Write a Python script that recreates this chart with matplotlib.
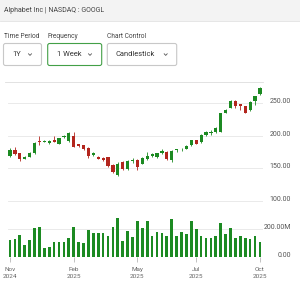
import matplotlib
matplotlib.use("Agg")
import matplotlib.pyplot as plt
from matplotlib.patches import Rectangle, FancyBboxPatch

plt.rcParams['font.family'] = ['Roboto', 'DejaVu Sans']

# weekly GOOGL candles
opens = [169, 178, 173, 165, 168, 173, 192, 191, 189, 193, 188, 198, 192, 200, 187, 185,
         181, 170, 168, 166, 167, 155, 140, 160, 149, 161, 163, 157, 164, 169, 167, 174,
         175, 163, 178, 179, 180, 185, 193, 190, 201, 204, 205, 206, 235, 243, 253, 248,
         245, 239, 253, 264]
closes = [178, 172, 164, 168, 174, 189, 190, 192, 192, 191, 196, 200, 204, 183, 184, 179,
          169, 174, 165, 163, 154, 145, 157, 149, 162, 163, 152, 166, 169, 172, 173, 176,
          165, 177, 179, 180, 184, 193, 188, 201, 205, 206, 212, 234, 240, 253, 246, 246,
          235, 252, 260, 273]
highs = [181, 182, 174, 169, 175, 191, 200, 194, 193, 200, 197, 201, 206, 206, 188, 186,
         182, 175, 169, 167, 168, 156, 159, 161, 163, 166, 164, 167, 175, 173, 174, 179,
         176, 178, 180, 181, 185, 194, 194, 202, 207, 208, 213, 235, 241, 254, 254, 249,
         246, 253, 261, 274]
lows = [167, 170, 162, 164, 167, 172, 186, 190, 188, 190, 187, 197, 191, 182, 183, 178,
        166, 169, 164, 162, 152, 143, 138, 147, 148, 158, 148, 156, 163, 168, 166, 172,
        163, 160, 175, 176, 179, 184, 187, 189, 200, 201, 204, 205, 234, 242, 242, 240,
        234, 238, 247, 263]
# volume in millions
volumes = [121, 129, 157, 86, 121, 205, 217, 67, 69, 107, 107, 107, 138, 217, 107, 102,
           193, 169, 169, 169, 152, 217, 276, 116, 186, 145, 257, 209, 257, 152, 181, 169,
           152, 269, 150, 176, 162, 259, 198, 150, 138, 133, 150, 245, 162, 209, 133, 152,
           133, 129, 150, 109]

tick_index = [0, 13, 26, 38, 51]
tick_labels = ['Nov\n2024', 'Feb\n2025', 'May\n2025', 'Jul\n2025', 'Oct\n2025']
price_ticks = [100, 150, 200, 250]
vol_ticks = [0, 200]
vol_labels = ['0.00', '200.00M']

GREEN = '#1c8a22'
RED = '#b3261e'
W, H = 300, 288

fig = plt.figure(figsize=(3, 2.88), dpi=100)


def px_axes(x0, y0, x1, y1):
    # box given in pixels, y measured from the top
    return fig.add_axes([x0 / W, 1 - y1 / H, (x1 - x0) / W, (y1 - y0) / H])


# header / controls drawn in pixel space
ui = fig.add_axes([0, 0, 1, 1])
ui.set_xlim(0, W)
ui.set_ylim(H, 0)
ui.axis('off')
ui.add_patch(Rectangle((0, 0), W, 21, fc='#f3f3f3', ec='none'))
ui.plot([0, W], [21, 21], color='#e2e2e2', lw=0.6)
ui.text(3.5, 10.7, 'Alphabet Inc | NASDAQ : GOOGL', fontsize=5, color='#444444', va='center')

controls = [('Time Period', '1Y', 3.5, 41.5, '#c8c8c8', 12, 30),
            ('Frequency', '1 Week', 47.7, 101.7, '#43a047', 56.7, 90),
            ('Chart Control', 'Candlestick', 107.3, 176.7, '#c8c8c8', 116, 165.7)]
for lab, val, x0, x1, ec, tx, cx in controls:
    ui.text(x0, 36.7, lab, fontsize=4.8, color='#444444', va='center')
    ui.add_patch(FancyBboxPatch((x0, 43.5), x1 - x0, 22, boxstyle='round,pad=0,rounding_size=2',
                                fc='white', ec=ec, lw=0.8))
    ui.text(tx, 54.5, val, fontsize=5.4, color='#333333', va='center')
    ui.plot([cx - 1.5, cx, cx + 1.5], [53.8, 55.4, 53.8], color='#555555', lw=0.6)
ui.plot([5, 263], [81.7, 81.7], color='#dddddd', lw=0.6)

# price panel
ax = px_axes(8, 85, 263, 205)
for i in range(len(opens)):
    o, c = opens[i], closes[i]
    col = GREEN if c >= o else RED
    ax.vlines(i, lows[i], highs[i], color=col, lw=0.6)
    ax.bar(i, max(abs(c - o), 0.9), bottom=min(o, c), width=0.65, color=col)
ax.set_xlim(-0.41, 51.63)
ax.set_ylim(93.9, 277.6)
ax.set_xticks([])
ax.set_yticks(price_ticks)
ax.set_yticklabels([f'{v:.2f}' for v in price_ticks])
ax.yaxis.tick_right()
ax.tick_params(axis='y', length=0, pad=20.2, labelsize=5, labelcolor='#555555')
plt.setp(ax.get_yticklabels(), ha='right', va='baseline')
ax.grid(axis='y', color='#e6e6e6', lw=0.6)
ax.set_axisbelow(True)
for s in ax.spines.values():
    s.set_visible(False)
ax.patch.set_alpha(0)

# volume panel
av = px_axes(8, 215, 263, 257)
av.bar(range(len(volumes)), volumes, width=0.56, color=GREEN)
av.set_xlim(-0.41, 51.63)
av.set_ylim(0, 300)
av.set_yticks(vol_ticks)
av.set_yticklabels(vol_labels)
av.yaxis.tick_right()
av.tick_params(axis='y', length=0, pad=20.2, labelsize=5, labelcolor='#555555')
plt.setp(av.get_yticklabels(), ha='right', va='baseline')
av.grid(axis='y', color='#e6e6e6', lw=0.6)
av.get_ygridlines()[0].set_visible(False)
av.set_axisbelow(True)
av.set_xticks(tick_index)
av.set_xticklabels(tick_labels, linespacing=1.3)
av.tick_params(axis='x', length=3.5, width=0.5, color='#aaaaaa', pad=4, labelsize=4.6,
               labelcolor='#666666')
for s in av.spines.values():
    s.set_visible(False)
av.patch.set_alpha(0)

fig.savefig('out.png', dpi=100)
